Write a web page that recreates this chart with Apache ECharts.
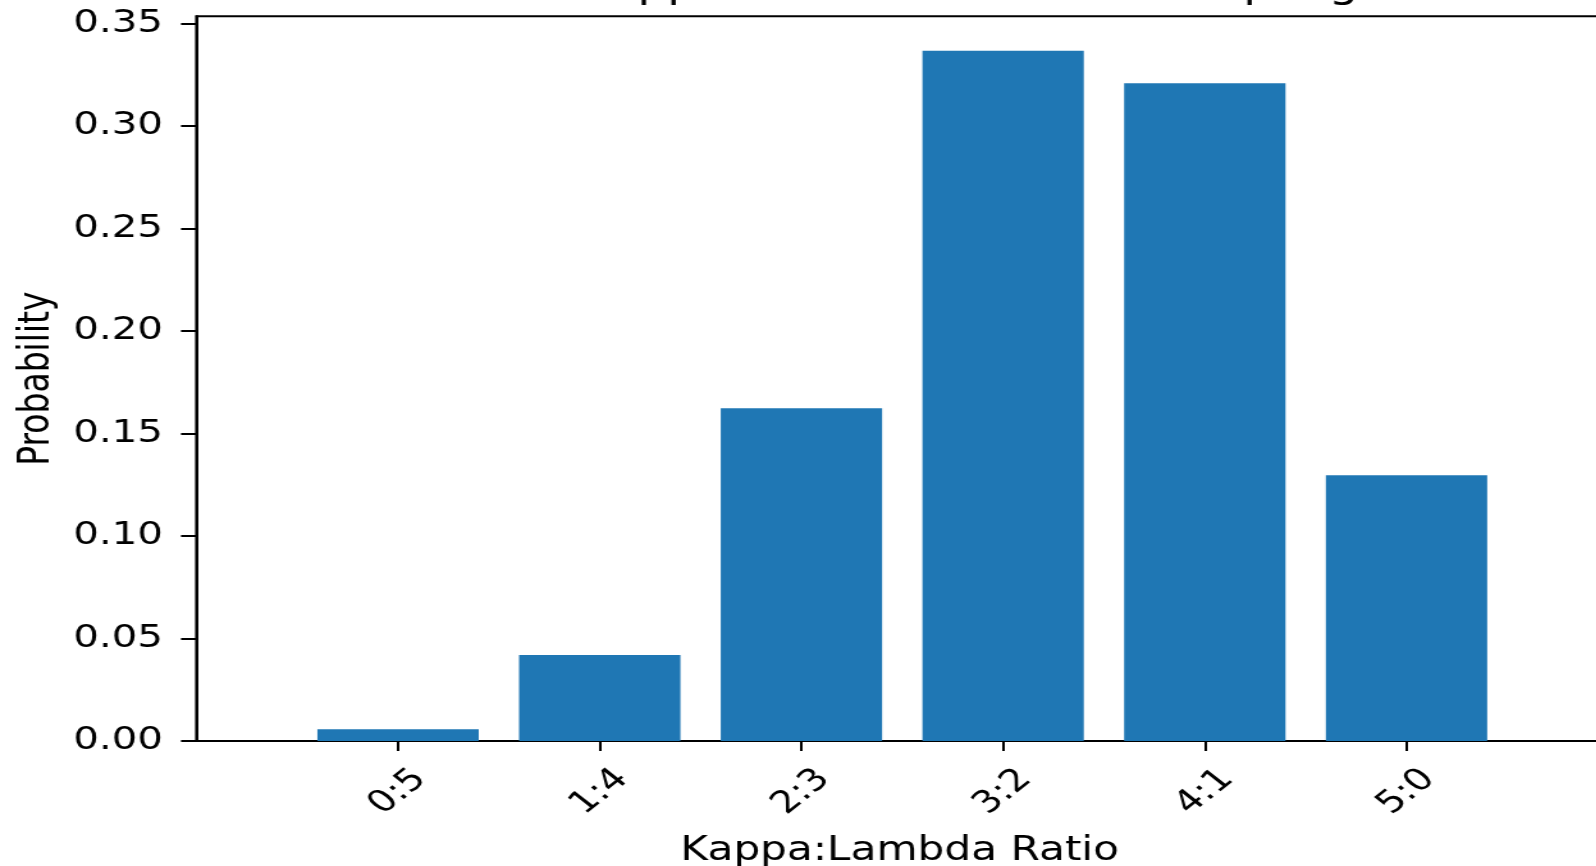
<!DOCTYPE html>
<html>
<head>
<meta charset="utf-8">
<script src="https://cdn.jsdelivr.net/npm/echarts@6/dist/echarts.min.js"></script>
<style>
  html, body { margin: 0; padding: 0; background: #fff; overflow: hidden; width: 1596px; height: 866px; }
  /* the figure is laid out narrow and then widened horizontally; its right edge runs past the window */
  #chart { width: 1300px; height: 866px; transform: scaleX(1.28); transform-origin: 0 0; }
</style>
</head>
<body>
<div id="chart"></div>
<script>
// Kappa:Lambda ratio categories and their probabilities
const ratioLabels = ['0:5', '1:4', '2:3', '3:2', '4:1', '5:0'];
const probabilities = [0.0057, 0.0420, 0.1623, 0.3367, 0.3208, 0.1296];
const yTickValues = [0, 0.05, 0.10, 0.15, 0.20, 0.25, 0.30, 0.35];
const titleText = 'Kappa:Lambda Ratio in Sampling';
const xAxisTitle = 'Kappa:Lambda Ratio';
const yAxisTitle = 'Probability';

const FONT = 'DejaVu Sans';
const gridLeft = 153.4, gridTop = 16.3, gridWidth = 1103, gridHeight = 724.7;
const xMin = -1, xMax = 6;
const barPx = 0.8 * gridWidth / (xMax - xMin);

const chart = echarts.init(document.getElementById('chart'), null, { renderer: 'canvas' });
chart.setOption({
  animation: false,
  backgroundColor: '#ffffff',
  title: {
    text: titleText,
    left: 452, top: -31, padding: 0,
    textStyle: { fontFamily: FONT, fontSize: 36.7, fontWeight: 'normal', color: '#000' }
  },
  grid: {
    left: gridLeft, top: gridTop, width: gridWidth, height: gridHeight,
    containLabel: false, outerBoundsMode: 'none',
    show: true, borderColor: '#000', borderWidth: 2, backgroundColor: 'transparent'
  },
  xAxis: {
    type: 'value', min: xMin, max: xMax, interval: 1,
    name: xAxisTitle, nameLocation: 'middle', nameGap: 94,
    nameTextStyle: { fontFamily: FONT, fontSize: 33, color: '#000', padding: [0, 4, 0, 0] },
    splitLine: { show: false },
    axisLine: { show: true, onZero: false, lineStyle: { color: '#000', width: 2 } },
    axisTick: { show: true, length: 10, lineStyle: { color: '#000', width: 2 }, customValues: ratioLabels.map((_, i) => i) },
    axisLabel: {
      customValues: ratioLabels.map((_, i) => i),
      formatter: v => ratioLabels[Math.round(v)] ?? '',
      rotate: 45, align: 'center', verticalAlign: 'middle', margin: 51,
      fontFamily: FONT, fontSize: 31, color: '#000'
    }
  },
  yAxis: {
    type: 'value', min: 0, max: 0.3535, interval: 0.05,
    name: yAxisTitle, nameLocation: 'middle', nameGap: 105, nameRotate: 90,
    nameTextStyle: { fontFamily: FONT, fontSize: 33, color: '#000' },
    splitLine: { show: false },
    axisLine: { show: true, onZero: false, lineStyle: { color: '#000', width: 2 } },
    axisTick: { show: true, length: 12, lineStyle: { color: '#000', width: 2 }, customValues: yTickValues },
    axisLabel: {
      customValues: yTickValues,
      formatter: v => v.toFixed(2),
      margin: 26, fontFamily: FONT, fontSize: 31.5, color: '#000'
    }
  },
  series: [{
    type: 'bar',
    data: ratioLabels.map((_, i) => [i, probabilities[i]]),
    barWidth: barPx,
    itemStyle: { color: '#1f77b4' }
  }]
});
</script>
</body>
</html>
